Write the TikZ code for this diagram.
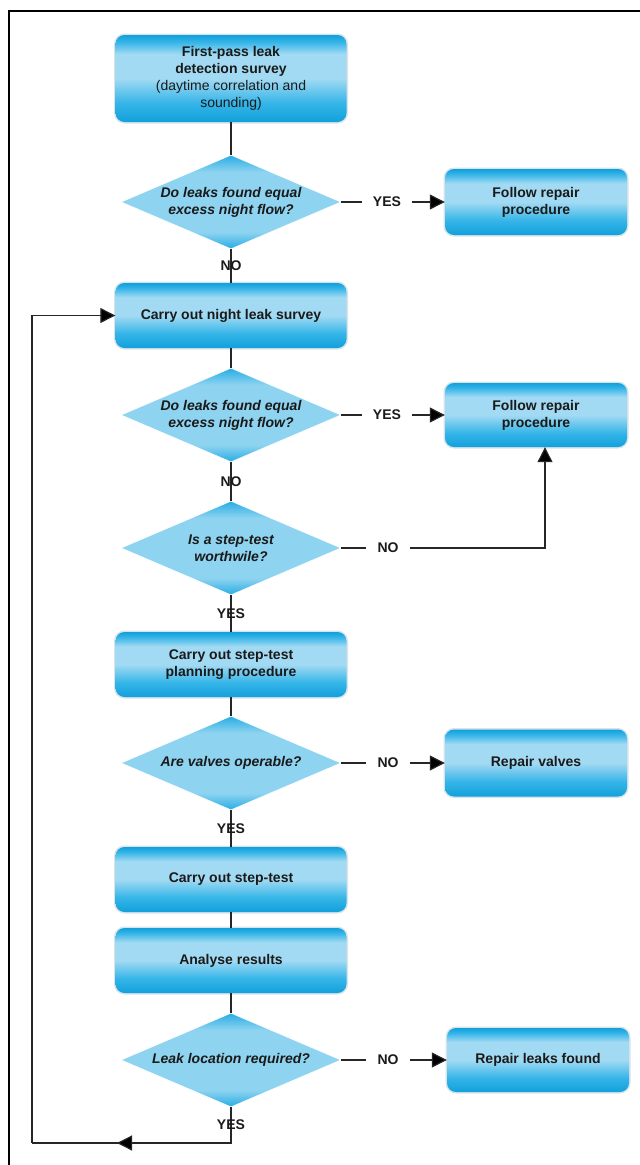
\documentclass[tikz,border=0pt]{standalone}
\usepackage{fontspec}
\setmainfont{Liberation Sans}
\usetikzlibrary{shapes.geometric,arrows.meta}

\definecolor{ink}{HTML}{1A1A1A}
\definecolor{lineclr}{HTML}{262626}
\definecolor{glow}{HTML}{D9E4EA}
\definecolor{cyanDeep}{HTML}{12A0DB}
\definecolor{cyanMid}{HTML}{35B5E8}
\definecolor{cyanPale}{HTML}{A2DAF3}
\definecolor{cyanSoft}{HTML}{8ED3F0}
\definecolor{cyanTip}{HTML}{28ADE5}

% process boxes: vivid cyan at the edges, pale band through the middle
\pgfdeclareverticalshading{boxshade}{100bp}{%
  color(0bp)=(cyanDeep); color(25bp)=(cyanDeep); color(36bp)=(cyanMid);
  color(50bp)=(cyanPale); color(64bp)=(cyanPale); color(71bp)=(cyanMid);
  color(75bp)=(cyanDeep); color(100bp)=(cyanDeep)}
% decision diamonds: pale body, stronger colour at the tips
\pgfdeclareverticalshading{diamshade}{100bp}{%
  color(0bp)=(cyanTip); color(25bp)=(cyanTip); color(34bp)=(cyanSoft);
  color(66bp)=(cyanSoft); color(75bp)=(cyanTip); color(100bp)=(cyanTip)}

\newcommand\chartfont{\fontsize{14}{17}\selectfont}

\tikzset{
  stepbox/.style={rectangle, rounded corners=9pt, minimum width=231pt,
    minimum height=65pt, align=center, font=\bfseries\chartfont, text=ink,
    shading=boxshade, preaction={draw=glow, line width=3pt}},
  sidebox/.style={stepbox, minimum width=182pt},
  query/.style={diamond, shape aspect=2.34, minimum width=220pt,
    minimum height=94pt, inner sep=0pt, align=center,
    font=\bfseries\itshape\chartfont, text=ink, shading=diamshade,
    draw=white, line width=0.6pt},
  lbl/.style={font=\bfseries\chartfont, text=ink, inner sep=0pt},
  hlbl/.style={lbl, inner xsep=11pt},
  link/.style={draw=lineclr, line width=1.2pt},
  arr/.style={link, -{Triangle[length=15pt,width=15pt,fill=black]}},
}

\begin{document}
\begin{tikzpicture}[x=1pt,y=-1pt]
\useasboundingbox (0,0) rectangle (640,1165);

% outer frame (top and left edges)
\draw[line width=2pt] (9,1165) -- (9,11) -- (640,11);

% main column
\node[stepbox, minimum height=87pt] (b1) at (231,78.5)
  {First-pass leak\\detection survey\\{\mdseries (daytime correlation and}\\{\mdseries sounding)}};
\node[query] (d1) at (231,202) {Do leaks found equal\\excess night flow?};
\node[stepbox] (b2) at (231,315.5) {Carry out night leak survey};
\node[query] (d2) at (231,415) {Do leaks found equal\\excess night flow?};
\node[query] (d3) at (231,548) {Is a step-test\\worthwile?};
\node[stepbox] (b3) at (231,664.5) {Carry out step-test\\planning procedure};
\node[query] (d4) at (231,763) {Are valves operable?};
\node[stepbox] (b4) at (231,879.5) {Carry out step-test};
\node[stepbox] (b5) at (231,960.5) {Analyse results};
\node[query] (d5) at (231,1060) {Leak location required?};

% side column
\node[sidebox, minimum height=66pt] (r1) at (536,202) {Follow repair\\procedure};
\node[sidebox, minimum height=64pt] (r2) at (536,415) {Follow repair\\procedure};
\node[sidebox, minimum height=67pt] (r3) at (536,763) {Repair valves};
\node[sidebox, minimum height=64pt] (r4) at (538,1060) {Repair leaks found};

% vertical links with their answers
\draw[link] (b1.south) -- (d1.north);
\draw[link] (d1.south) -- node[lbl] (n1) {NO} (b2.north);
\draw[link] (b2.south) -- (d2.north);
\draw[link] (d2.south) -- node[lbl] (n2) {NO} (d3.north);
\draw[link] (d3.south) -- node[lbl] (y3) {YES} (b3.north);
\draw[link] (b3.south) -- (d4.north);
\draw[link] (d4.south) -- node[lbl] (y4) {YES} (b4.north);
\draw[link] (b4.south) -- (b5.north);
\draw[link] (b5.south) -- (d5.north);

% horizontal answers leading to the side column
\node[hlbl] (y1) at (387,202) {YES};
\draw[link] (d1.east) -- (y1.west);
\draw[arr] (y1.east) -- (r1.west);

\node[hlbl] (y2) at (387,415) {YES};
\draw[link] (d2.east) -- (y2.west);
\draw[arr] (y2.east) -- (r2.west);

\node[hlbl] (n3) at (388,548) {NO};
\draw[link] (d3.east) -- (n3.west);
\draw[arr] (n3.east) -| ([xshift=9pt]r2.south);

\node[hlbl] (n4) at (388,763) {NO};
\draw[link] (d4.east) -- (n4.west);
\draw[arr] (n4.east) -- (r3.west);

\node[hlbl] (n5) at (388,1060) {NO};
\draw[link] (d5.east) -- (n5.west);
\draw[arr] (n5.east) -- (r4.west);

% loop back to the night survey
\coordinate (loopturn) at (231,1143);
\coordinate (looptip) at (117,1143);
\coordinate (loopcorner) at (32,1143);
\draw[link] (d5.south) -- node[lbl] (y5) {YES} (loopturn) -- (loopcorner);
\draw[arr] (loopturn) -- (looptip);
\draw[arr] (loopcorner) |- (b2.west);
\end{tikzpicture}
\end{document}
